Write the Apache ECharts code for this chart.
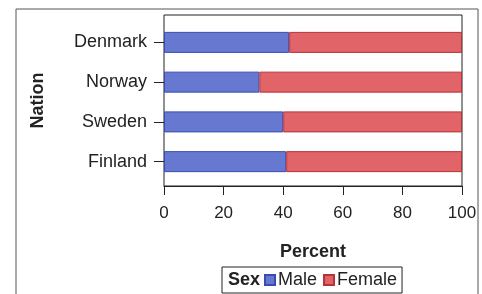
<!DOCTYPE html>
<html>
<head>
<meta charset="utf-8">
<script src="https://cdn.jsdelivr.net/npm/echarts@6/dist/echarts.min.js"></script>
<style>
  html, body { margin: 0; padding: 0; background: #fff; }
  #chart { width: 482px; height: 294px; }
</style>
</head>
<body>
<div id="chart"></div>
<script>
var nations = ['Denmark', 'Norway', 'Sweden', 'Finland'];
var maleVals = [42, 32, 40, 41];
var femaleVals = [58, 68, 60, 59];
var xTicks = [0, 20, 40, 60, 80, 100];

var font = 'Liberation Sans';
var chart = echarts.init(document.getElementById('chart'));

chart.setOption({
  animation: false,
  backgroundColor: '#fff',
  textStyle: { fontFamily: font },
  graphic: [
    // outer frame (runs past the bottom edge)
    { type: 'rect', shape: { x: 16, y: 9, width: 462, height: 300 },
      style: { fill: 'none', stroke: '#555', lineWidth: 1 }, z: -1 },
    { type: 'text', left: 228, top: 271,
      style: { text: 'Sex', font: 'bold 18px ' + font, fill: '#222' } }
  ],
  legend: {
    left: 222, top: 267,
    padding: [4, 5, 4, 42],
    borderColor: '#222', borderWidth: 1,
    itemWidth: 10, itemHeight: 10, itemGap: 6,
    icon: 'rect',
    textStyle: { fontSize: 18, color: '#222', padding: [0, 0, 0, -2] },
    data: ['Male', 'Female']
  },
  grid: [
    { left: 164, right: 20, top: 15, height: 171, show: true,
      borderColor: '#222', borderWidth: 1, backgroundColor: '#fff' },
    { left: 164, right: 20, top: 22.5, height: 159 }
  ],
  xAxis: [
    { type: 'value', gridIndex: 0, min: 0, max: 100, interval: 20,
      axisLine: { show: true, lineStyle: { color: '#222' } },
      axisTick: { show: true, length: 9, lineStyle: { color: '#222' } },
      splitLine: { show: false },
      axisLabel: { fontSize: 17, color: '#222', margin: 19,
        formatter: function (v) { return xTicks.indexOf(v) >= 0 ? String(v) : ''; } },
      name: 'Percent', nameLocation: 'middle', nameGap: 57,
      nameTextStyle: { fontSize: 18, fontWeight: 'bold', color: '#222' } },
    { type: 'value', gridIndex: 1, min: 0, max: 100, show: false }
  ],
  yAxis: [
    { type: 'value', gridIndex: 0, show: true,
      name: 'Nation', nameLocation: 'middle', nameGap: 117,
      axisLine: { show: false }, axisTick: { show: false },
      axisLabel: { show: false }, splitLine: { show: false },
      nameTextStyle: { fontSize: 18, fontWeight: 'bold', color: '#222' } },
    { type: 'category', gridIndex: 1, data: nations, inverse: true,
      axisLine: { show: false },
      axisTick: { show: true, alignWithLabel: true, length: 10,
        lineStyle: { color: '#222' } },
      axisLabel: { fontSize: 18, color: '#222', margin: 17 } }
  ],
  series: [
    { name: 'Male', type: 'bar', stack: 'sex', xAxisIndex: 1, yAxisIndex: 1,
      data: maleVals, barWidth: 21,
      itemStyle: { color: '#6678d0', borderColor: '#3a4cb0', borderWidth: 1 } },
    { name: 'Female', type: 'bar', stack: 'sex', xAxisIndex: 1, yAxisIndex: 1,
      data: femaleVals, barWidth: 21,
      itemStyle: { color: '#e06468', borderColor: '#b8323a', borderWidth: 1 } }
  ]
});
</script>
</body>
</html>
